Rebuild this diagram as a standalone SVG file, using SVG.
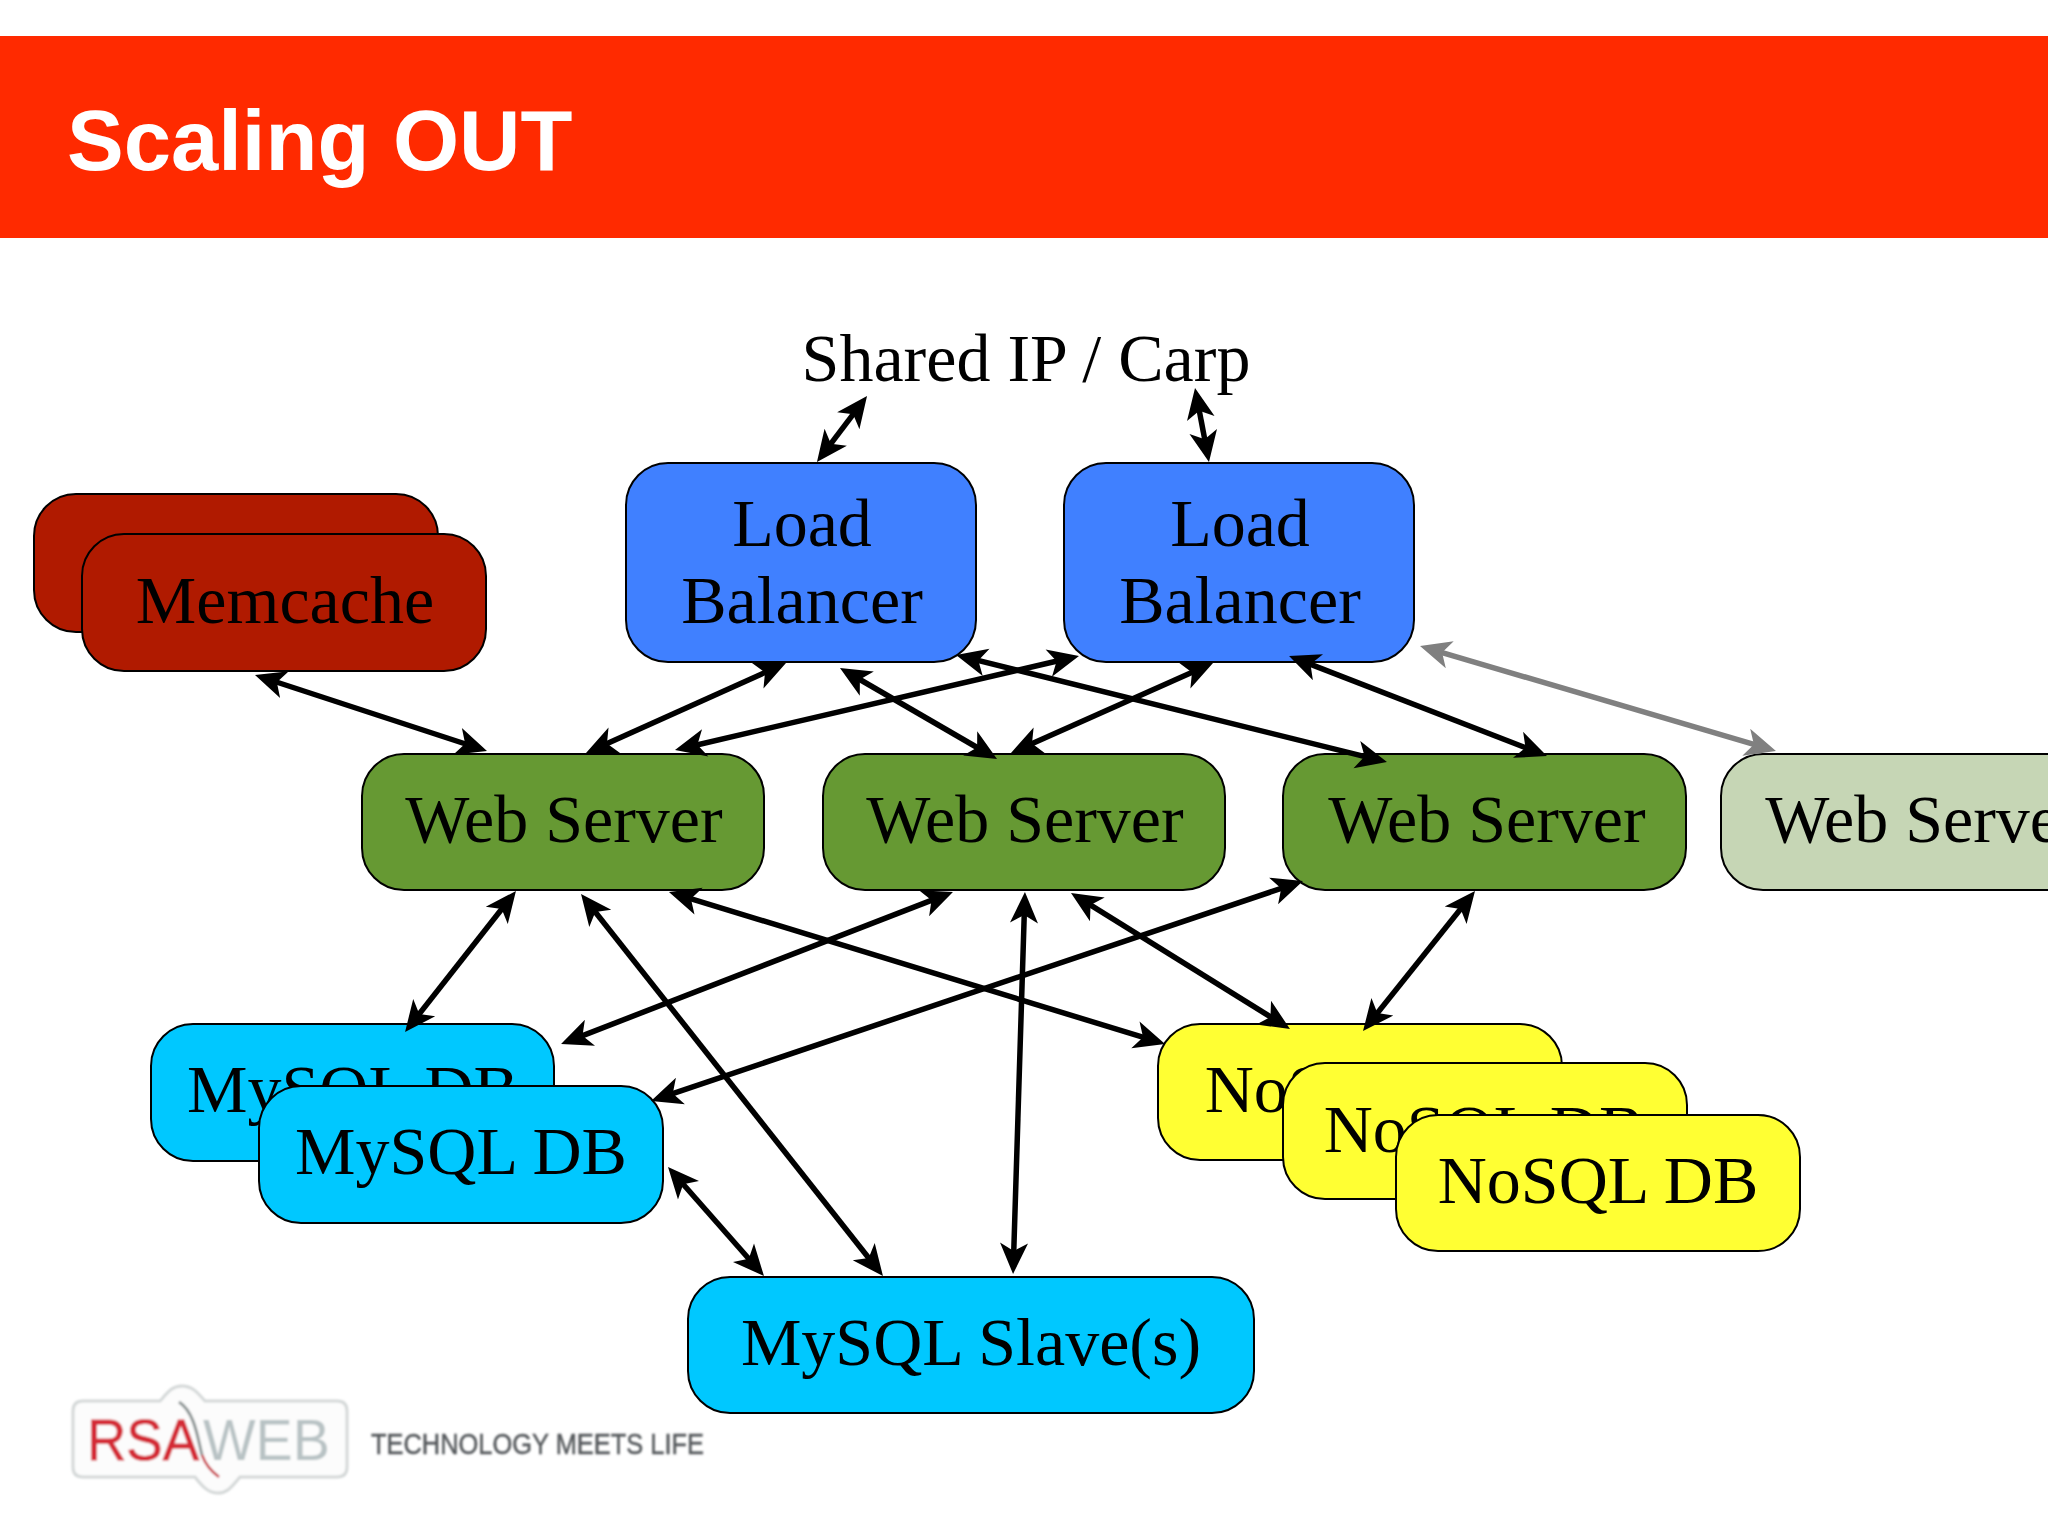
<svg xmlns="http://www.w3.org/2000/svg" width="2048" height="1536" viewBox="0 0 2048 1536">
<style>
.n{stroke:#000;stroke-width:2}
.t{font-family:"Liberation Serif","Times New Roman",serif;font-size:68px;fill:#000;text-anchor:middle}
.c{fill:none;stroke:#000;stroke-width:5.500;marker-start:url(#a);marker-end:url(#a)}
.g{stroke:#808080;marker-start:url(#b);marker-end:url(#b)}
.lb{fill:#4080ff}.web{fill:#669933}.mem{fill:#b01a00}.my{fill:#00c8ff}.no{fill:#ffff33}
</style>
<defs>
<marker id="a" markerUnits="userSpaceOnUse" markerWidth="40" markerHeight="40" viewBox="0 0 40 40" refX="26" refY="20" orient="auto-start-reverse"><path d="M34 20L3 6L11 20L3 34Z" fill="#000"/></marker>
<marker id="b" markerUnits="userSpaceOnUse" markerWidth="40" markerHeight="40" viewBox="0 0 40 40" refX="26" refY="20" orient="auto-start-reverse"><path d="M34 20L3 6L11 20L3 34Z" fill="#808080"/></marker>
<filter id="blur" x="-5%" y="-5%" width="110%" height="110%"><feGaussianBlur stdDeviation="0.9"/></filter>
</defs>
<rect width="2048" height="1536" fill="#fff"/>
<g id="header">
<rect x="0" y="36" width="2048" height="202" fill="#ff2a00"/>
<text x="67" y="170" font-family="'Liberation Sans',Arial,sans-serif" font-weight="700" font-size="85" fill="#fff">Scaling OUT</text>
</g>
<g id="shared-ip"><text class="t" x="1026" y="381">Shared IP / Carp</text></g>
<g id="memcache-back"><rect class="n mem" x="34" y="494" width="404" height="138" rx="42"/></g>
<g id="memcache-front"><rect class="n mem" x="82" y="534" width="404" height="137" rx="42"/><text class="t" x="285" y="623">Memcache</text></g>
<g id="lb1"><rect class="n lb" x="626" y="463" width="350" height="199" rx="42"/><text class="t" x="802" y="546">Load</text><text class="t" x="802" y="623">Balancer</text></g>
<g id="lb2"><rect class="n lb" x="1064" y="463" width="350" height="199" rx="42"/><text class="t" x="1240" y="546">Load</text><text class="t" x="1240" y="623">Balancer</text></g>
<g id="web1"><rect class="n web" x="362" y="754" width="402" height="136" rx="42"/><text class="t" x="564" y="842">Web Server</text></g>
<g id="web2"><rect class="n web" x="823" y="754" width="402" height="136" rx="42"/><text class="t" x="1025" y="842">Web Server</text></g>
<g id="web3"><rect class="n web" x="1283" y="754" width="403" height="136" rx="42"/><text class="t" x="1487" y="842">Web Server</text></g>
<g id="web4"><rect class="n" fill="#c6d6b5" x="1721" y="754" width="404" height="136" rx="42"/><text class="t" x="1924" y="842">Web Server</text></g>
<g id="mysql-back"><rect class="n my" x="151" y="1024" width="403" height="137" rx="42"/><text class="t" x="353" y="1112">MySQL DB</text></g>
<g id="mysql-front"><rect class="n my" x="259" y="1086" width="404" height="137" rx="42"/><text class="t" x="461" y="1174">MySQL DB</text></g>
<g id="mysql-slave"><rect class="n my" x="688" y="1277" width="566" height="136" rx="42"/><text class="t" x="971" y="1365">MySQL Slave(s)</text></g>
<g id="nosql1"><rect class="n no" x="1158" y="1024" width="404" height="136" rx="42"/><text class="t" x="1365" y="1112">NoSQL DB</text></g>
<g id="nosql2"><rect class="n no" x="1283" y="1063" width="404" height="136" rx="42"/><text class="t" x="1484" y="1152">NoSQL DB</text></g>
<g id="nosql3"><rect class="n no" x="1396" y="1115" width="404" height="136" rx="42"/><text class="t" x="1598" y="1203">NoSQL DB</text></g>
<g id="connectors">
<line class="c" x1="862.2" y1="402.4" x2="821.8" y2="455.6"/>
<line class="c" x1="1196.5" y1="395.9" x2="1207.5" y2="454.1"/>
<line class="c" x1="778.7" y1="666.3" x2="593.3" y2="749.7"/>
<line class="c" x1="1071.2" y1="657.8" x2="682.8" y2="748.2"/>
<line class="c" x1="846.9" y1="672" x2="990.1" y2="755"/>
<line class="c" x1="963.8" y1="656.9" x2="1379.2" y2="760.1"/>
<line class="c" x1="1205.7" y1="666.3" x2="1018.3" y2="749.7"/>
<line class="c" x1="1296.5" y1="658.9" x2="1539.5" y2="753.1"/>
<line class="c g" x1="1427.7" y1="648.3" x2="1768.3" y2="748.7"/>
<line class="c" x1="262.6" y1="677.5" x2="479.4" y2="748.5"/>
<line class="c" x1="511" y1="897.3" x2="410" y2="1025.7"/>
<line class="c" x1="586" y1="900.3" x2="878" y2="1269.7"/>
<line class="c" x1="676.6" y1="894.3" x2="1157.4" y2="1041.7"/>
<line class="c" x1="945.5" y1="894.9" x2="568.5" y2="1041.1"/>
<line class="c" x1="1295.4" y1="883.6" x2="658.6" y2="1098.4"/>
<line class="c" x1="673.3" y1="1173" x2="758.7" y2="1270"/>
<line class="c" x1="1024.7" y1="900" x2="1013.3" y2="1266"/>
<line class="c" x1="1077.8" y1="897.2" x2="1283.2" y2="1024.8"/>
<line class="c" x1="1470" y1="897.2" x2="1368" y2="1024.8"/>
</g>
<g id="logo" filter="url(#blur)">
<path d="M83 1401H160C168 1392 172 1386 182 1386C192 1386 197 1392 205 1401H337Q347 1401 347 1411V1467Q347 1477 337 1477H240C232 1486 228 1493 218 1493C208 1493 202 1486 195 1477H83Q73 1477 73 1467V1411Q73 1401 83 1401Z" fill="#fcfcfc" stroke="#d4d8d8" stroke-width="3"/>
<text x="87" y="1460" font-family="'Liberation Sans',Arial,sans-serif" font-size="58" fill="#d42a35" stroke="#d42a35" stroke-width="0.800" textLength="112" lengthAdjust="spacingAndGlyphs">RSA</text>
<text x="203" y="1460" font-family="'Liberation Sans',Arial,sans-serif" font-size="58" fill="#b8c2c4" textLength="127" lengthAdjust="spacingAndGlyphs">WEB</text>
<path d="M179 1402C195 1412 198 1440 202 1455" fill="none" stroke="#8c9494" stroke-width="3"/>
<path d="M202 1455C206 1466 212 1472 219 1477" fill="none" stroke="#c8303a" stroke-width="2.500"/>
<text x="371" y="1454" font-family="'Liberation Sans',Arial,sans-serif" font-size="29" fill="#55595c" stroke="#55595c" stroke-width="0.500" textLength="333" lengthAdjust="spacingAndGlyphs">TECHNOLOGY MEETS LIFE</text>
</g>
</svg>
